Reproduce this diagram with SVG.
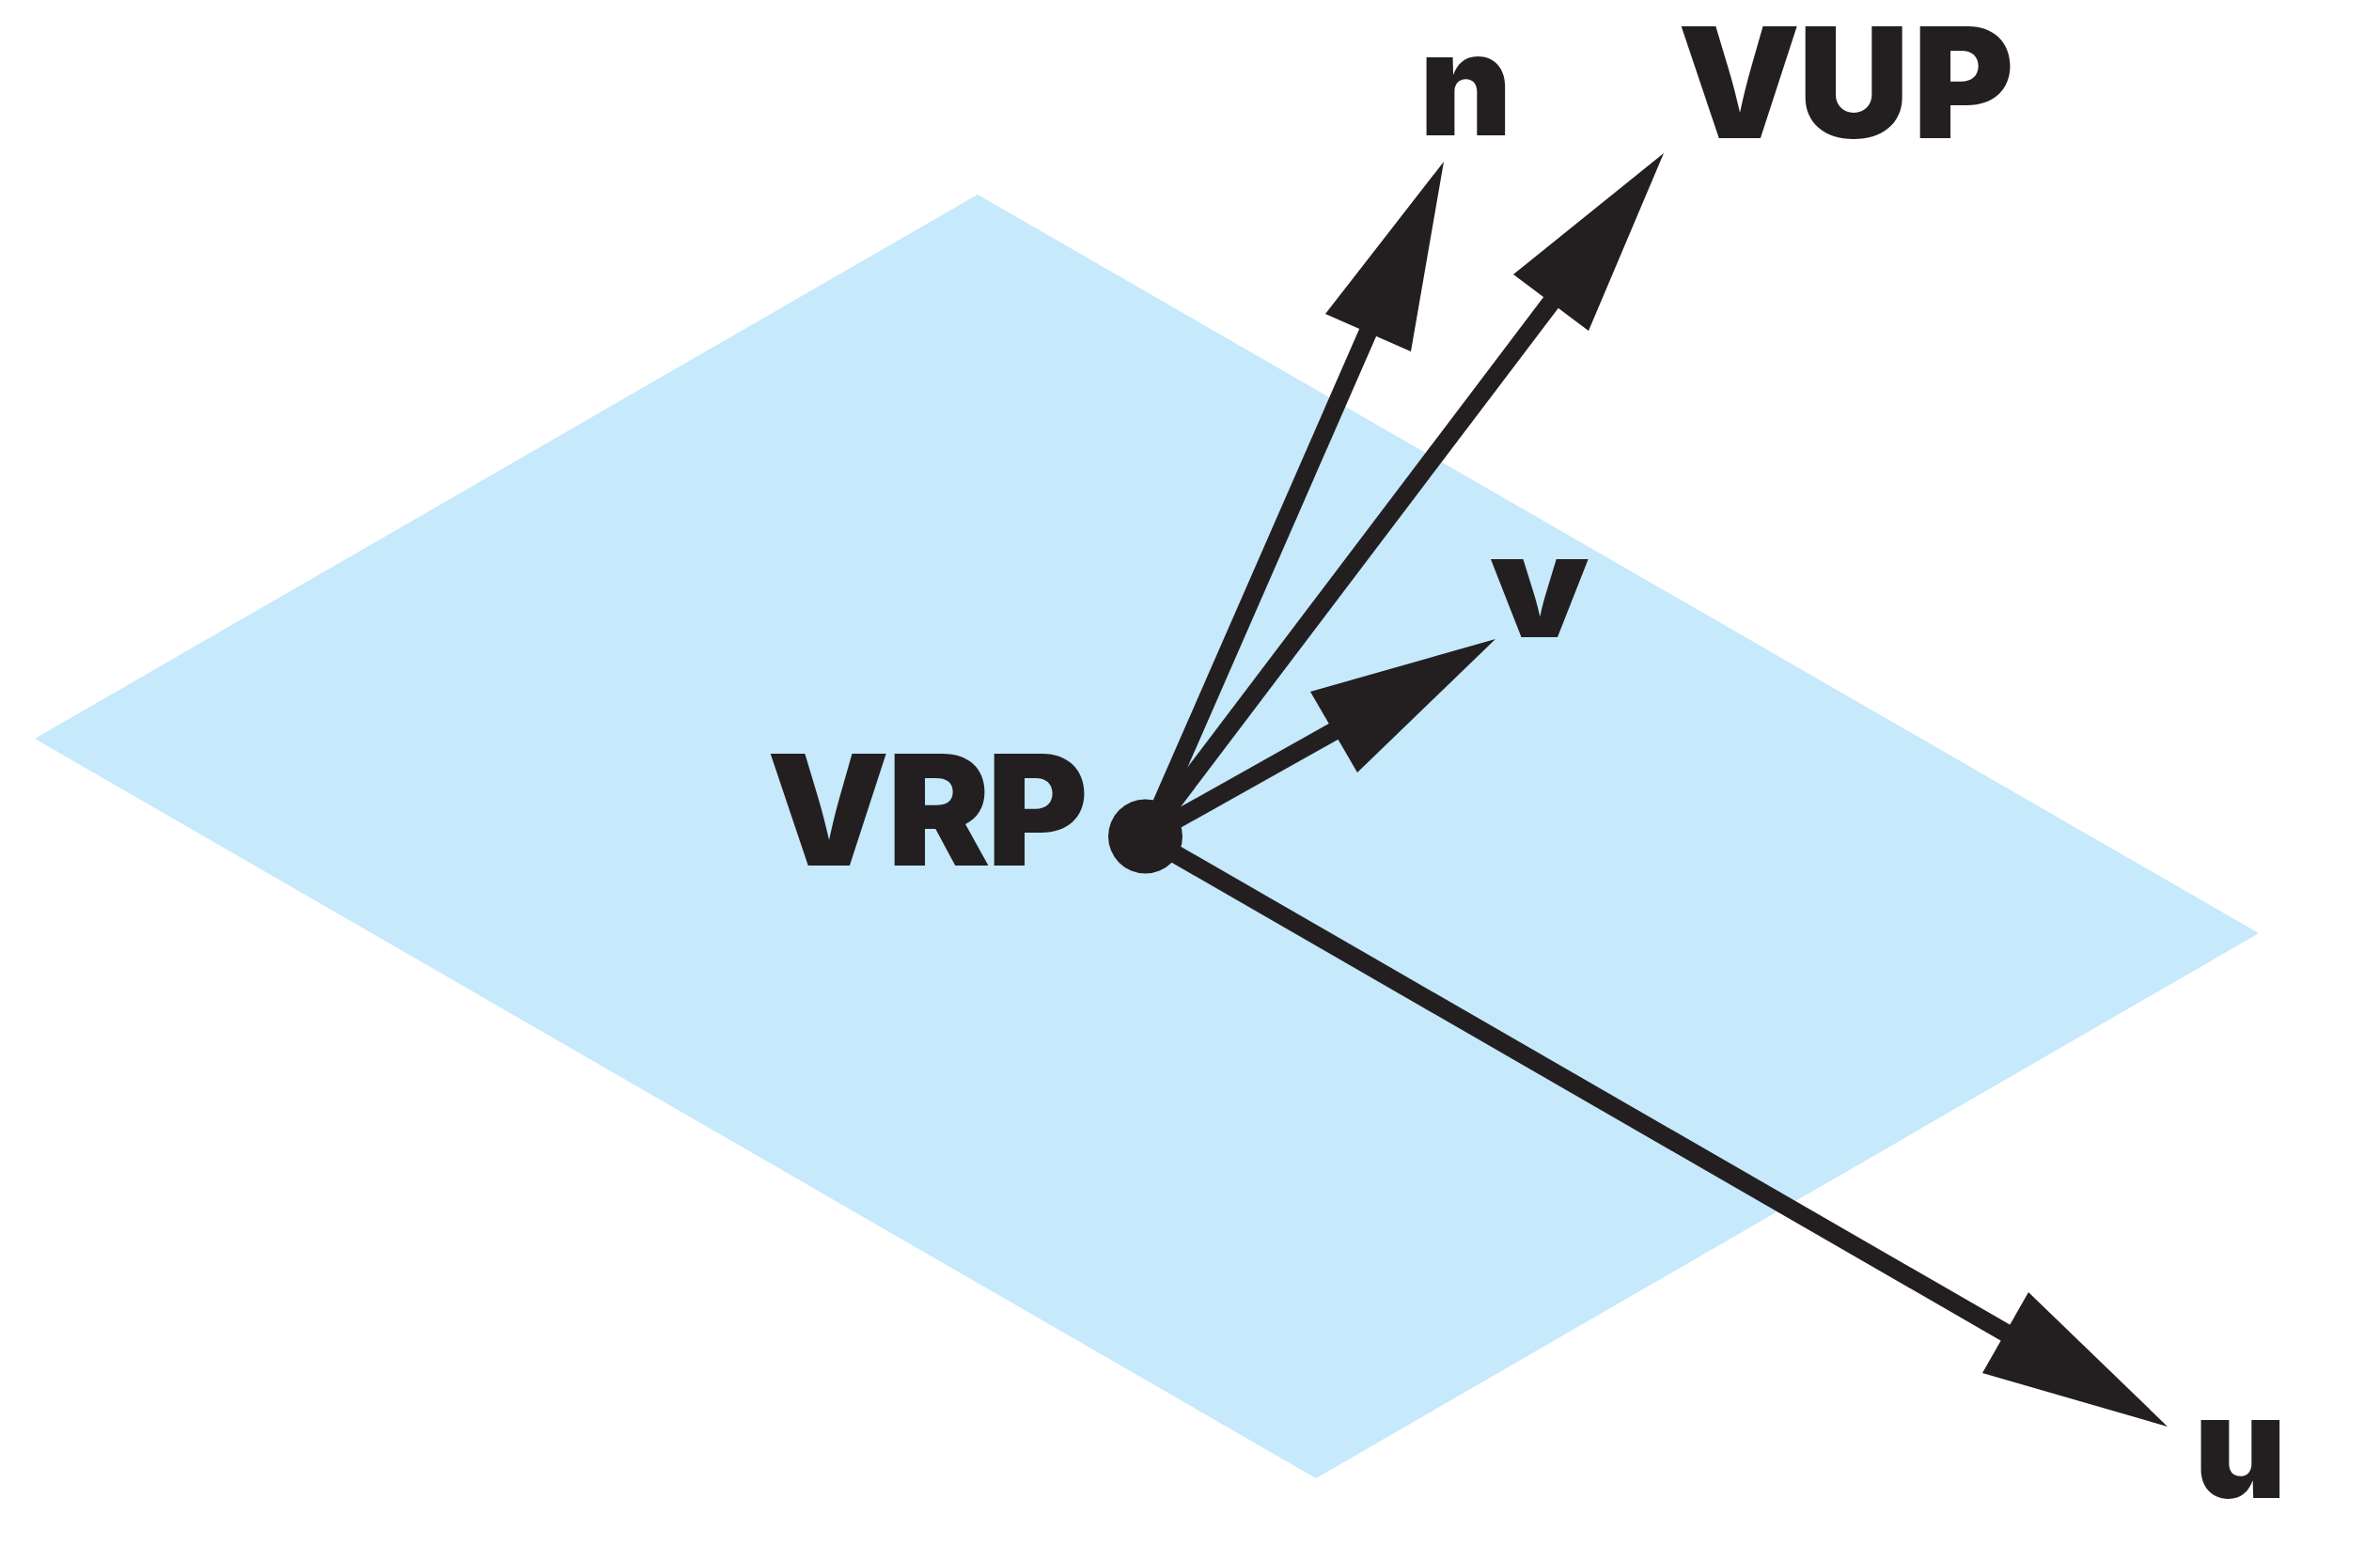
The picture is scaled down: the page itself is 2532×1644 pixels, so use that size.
<svg xmlns="http://www.w3.org/2000/svg" width="2532" height="1644" viewBox="0 0 2532 1644">
<style>
.l{font-family:Inter,"Liberation Sans",sans-serif;font-weight:900;fill:#231f20}
.c{font-size:164px}
.s{font-size:152px}
.ln{stroke:#231f20;stroke-width:19.500;fill:none}
.h{fill:#231f20}
</style>
<rect width="2532" height="1644" fill="#fff"/>
<polygon id="plane" points="1040,207 2403,993 1400,1573 37,786" fill="#c6e9fb"/>
<g id="connectors">
<line class="ln" x1="1225" y1="880" x2="1459" y2="345"/>
<line class="ln" x1="1226" y1="882" x2="1656" y2="314"/>
<line class="ln" x1="1218" y1="891" x2="1430" y2="772"/>
<line class="ln" x1="1218" y1="890" x2="2142" y2="1423"/>
<polygon class="h" points="1536,172 1501,374 1410,334"/>
<polygon class="h" points="1770,163 1690,352 1610,292"/>
<polygon class="h" points="1591,680 1444,822 1394,736"/>
<polygon class="h" points="2306,1518 2109,1461 2158,1375"/>
</g>
<g id="vrp"><circle class="h" cx="1218.500" cy="890" r="39.500"/><text class="l c" x="816 944 1050" y="921">VRP</text></g>
<g id="n"><text class="l s" x="1510" y="144">n</text></g>
<g id="vup"><text class="l c" x="1785 1913 2035" y="147">VUP</text></g>
<g id="v"><text class="l s" transform="translate(1585 678) scale(1.1 1)">v</text></g>
<g id="u"><text class="l s" x="2334" y="1594">u</text></g>
</svg>
